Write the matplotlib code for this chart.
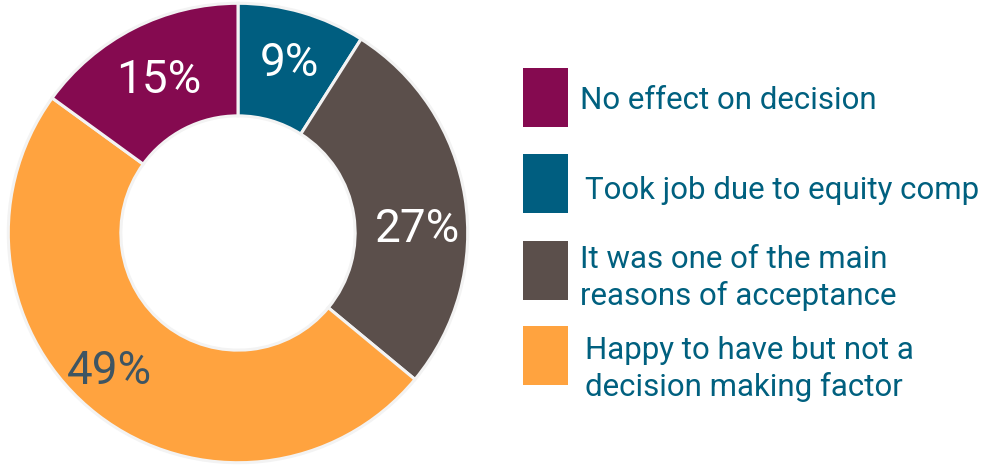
import matplotlib
matplotlib.use("Agg")
import matplotlib.pyplot as plt
from matplotlib.patches import Rectangle

# Data
categories = ["Took job due to equity comp",
              "It was one of the main\nreasons of acceptance",
              "Happy to have but not a\ndecision making factor",
              "No effect on decision"]
values = [9, 27, 49, 15]
colors = ["#005E80", "#5B4F4B", "#FFA33F", "#850A50"]
label_colors = ["white", "white", "#3E5563", "white"]

# legend order (top to bottom)
legend_order = [3, 0, 1, 2]

W, H = 993, 465
fig = plt.figure(figsize=(W / 100, H / 100), dpi=100)

# pie axes: centre (238,233) px, radius 232 px
cx, cy, r = 238, 233, 232
ax = fig.add_axes([(cx - r) / W, (H - cy - r) / H, 2 * r / W, 2 * r / H])
wedges, texts, autotexts = ax.pie(
    values, colors=colors, startangle=90, counterclock=False,
    radius=1.0, autopct="%d%%", pctdistance=0.76,
    wedgeprops=dict(width=0.49, edgecolor="#F3F3F3", linewidth=2.2),
    textprops=dict(fontsize=33, family="Roboto", fontweight="normal"))
# small label nudges (in radius units) to match the reference placement
nudges = [(0.01, 0.01), (0.03, -0.10), (-0.095, 0.0), (0.0, -0.01)]
for t, c, (dx, dy) in zip(autotexts, label_colors, nudges):
    t.set_color(c)
    x, y = t.get_position()
    t.set_position((x + dx, y + dy))
ax.set_xlim(-1.01, 1.01)
ax.set_ylim(-1.01, 1.01)
ax.set_aspect("equal")
ax.axis("off")

# legend in pixel coordinates
lax = fig.add_axes([0, 0, 1, 1])
lax.set_xlim(0, W)
lax.set_ylim(H, 0)
lax.axis("off")
box_tops = [68, 154, 241, 326]
text_x = [580, 585, 580, 585]
text_y = [100, 190, 278, 369]
for k, idx in enumerate(legend_order):
    lax.add_patch(Rectangle((523, box_tops[k]), 45, 59, facecolor=colors[idx], edgecolor="none"))
    lax.text(text_x[k], text_y[k], categories[idx], fontsize=22.5, family="Roboto",
             color="#00607F", va="center", ha="left", linespacing=1.33)

fig.savefig("out.png", dpi=100)
